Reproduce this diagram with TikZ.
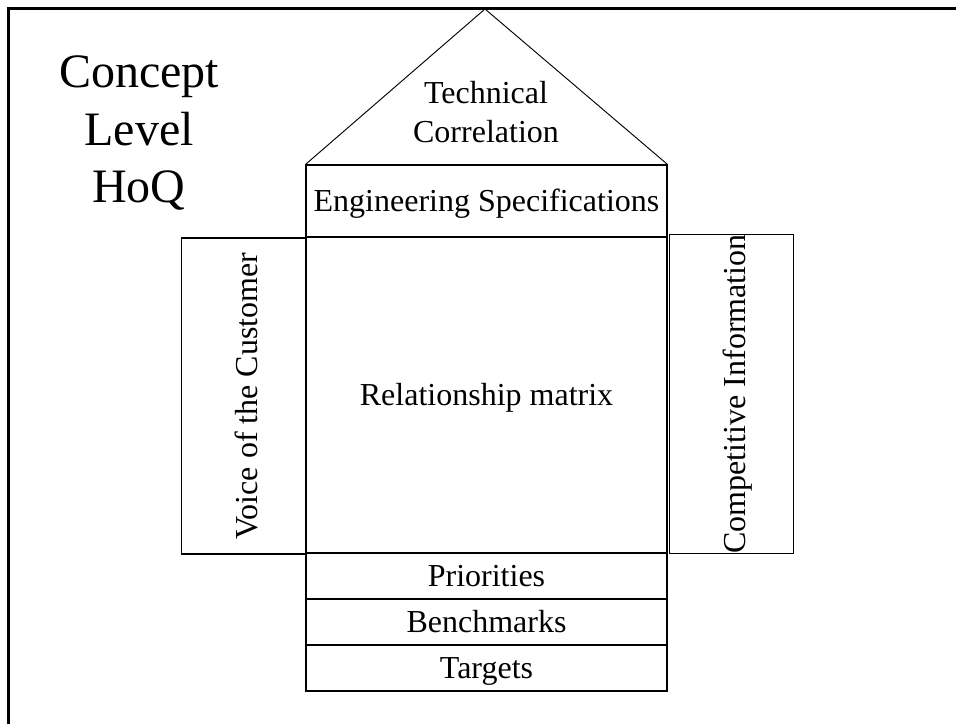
\documentclass[tikz,border=0pt]{standalone}
\usepackage{fontspec}
\setmainfont{Liberation Serif}
\begin{document}
\begin{tikzpicture}[x=0.75pt, y=-0.75pt,
  part/.style={rectangle, draw, line width=0.8pt, inner sep=0pt, minimum width=361*0.75pt,
               text height=16.3pt, text depth=0pt, font=\fontsize{24}{29}\selectfont},
  side/.style={part, rotate=90, minimum width=316*0.75pt, minimum height=124*0.75pt, text height=21pt},
  frame/.style={line width=2.25pt},
]
\useasboundingbox (0,0) rectangle (956,724);
\draw[frame] (8.5,724) -- (8.5,8.5) -- (956,8.5);
\node[font=\fontsize{36}{43}\selectfont, align=center] (title) at (139,133) {Concept\\Level\\HoQ};
\node[part, minimum height=72*0.75pt]  (es) at (486.5,201) {Engineering Specifications};
\node[part, minimum height=316*0.75pt] (rm) at (486.5,395) {Relationship matrix};
\node[part, minimum height=46*0.75pt]  (pr) at (486.5,576) {Priorities};
\node[part, minimum height=46*0.75pt]  (bm) at (486.5,622) {Benchmarks};
\node[part, minimum height=46*0.75pt]  (tg) at (486.5,668) {Targets};
\node[side] (voc) at (243.5,396) {Voice of the Customer};
\node[side] (ci)  at (731.5,394) {Competitive Information};
\coordinate (apex) at (485,9);
\draw[line width=0.7pt] (es.north west) -- (apex) -- (es.north east);
\node[font=\fontsize{24}{29}\selectfont, align=center] (tc) at (486,112) {Technical\\Correlation};
\end{tikzpicture}
\end{document}
